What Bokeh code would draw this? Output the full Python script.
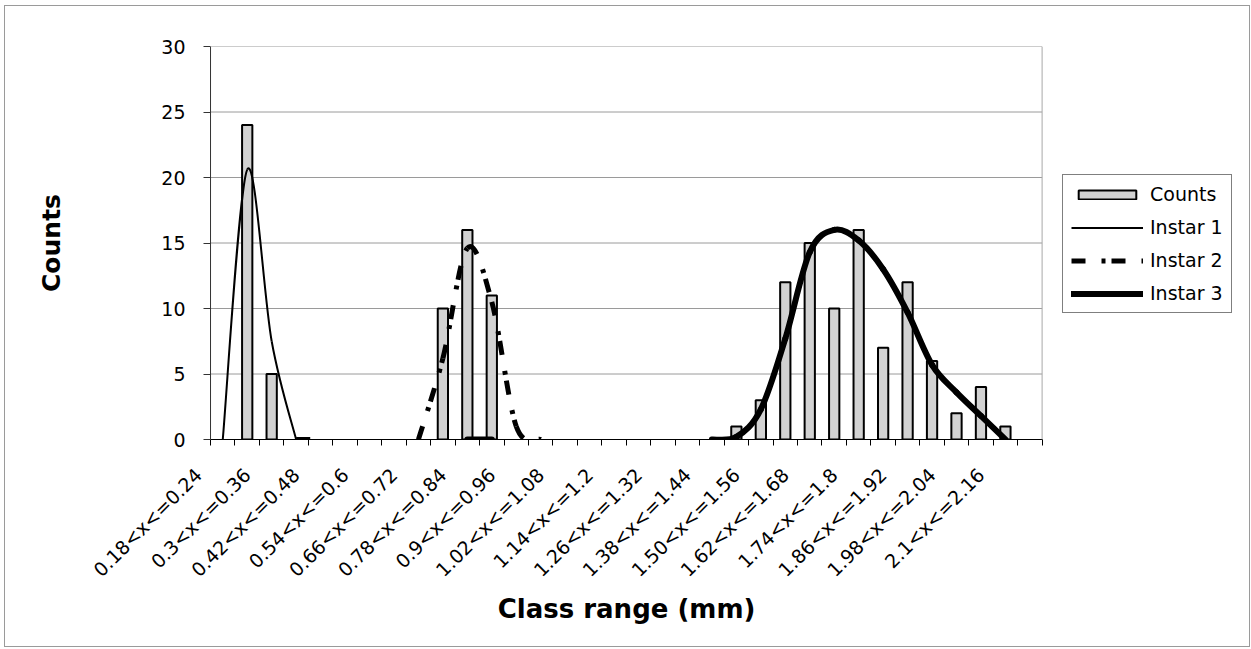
import math
from bokeh.plotting import figure
from bokeh.models import Range1d, FixedTicker, Legend, LegendItem, Span, Title
from bokeh.embed import file_html
from bokeh.resources import INLINE

# ---------------- data ----------------
categories = [
    "0.18<x<=0.24", "0.24<x<=0.3", "0.3<x<=0.36", "0.36<x<=0.42", "0.42<x<=0.48",
    "0.48<x<=0.54", "0.54<x<=0.6", "0.6<x<=0.66", "0.66<x<=0.72", "0.72<x<=0.78",
    "0.78<x<=0.84", "0.84<x<=0.9", "0.9<x<=0.96", "0.96<x<=1.02", "1.02<x<=1.08",
    "1.08<x<=1.14", "1.14<x<=1.2", "1.2<x<=1.26", "1.26<x<=1.32", "1.32<x<=1.38",
    "1.38<x<=1.44", "1.44<x<=1.50", "1.50<x<=1.56", "1.56<x<=1.62", "1.62<x<=1.68",
    "1.68<x<=1.74", "1.74<x<=1.8", "1.8<x<=1.86", "1.86<x<=1.92", "1.92<x<=1.98",
    "1.98<x<=2.04", "2.04<x<=2.1", "2.1<x<=2.16", "2.16<x<=2.22",
]
counts = [0, 24, 5, 0, 0, 0, 0, 0, 0, 10, 16, 11, 0, 0, 0, 0, 0,
          0, 0, 0, 0, 1, 3, 12, 15, 10, 16, 7, 12, 6, 2, 4, 1, 0]
N = None
instar1 = [0, 20.6, 7.5, 0, N, N, N, N, N, N, N, N, N, N, N, N, N,
           N, N, N, N, N, N, N, N, N, N, N, N, N, N, N, N, N]
instar2 = [N, N, N, 0, 0, N, N, N, 0, 6.2, 14.6, 10.5, 1.0, 0, N, N, N,
           N, N, N, N, N, N, N, N, N, N, N, N, N, N, N, N, N]
instar3 = [N, N, N, N, N, N, N, N, N, N, 0, 0, N, N, N, N, N,
           N, N, N, 0, 0.2, 2.3, 7.7, 14.3, 16.0, 15.2, 13.0, 9.7, 5.7, 3.6, 1.8, 0, N]
y_ticks = [0, 5, 10, 15, 20, 25, 30]

# ---------------- layout constants ----------------
FONT = "DejaVu Sans"
ncat = len(categories)
W, H = 1246, 642
MB_LEFT, MB_RIGHT, MB_TOP, MB_BOTTOM = 190, 2, 40, 209
CAT_PX = 830.0 / ncat          # pixel width of one class on screen
AXIS_OFFSET_PX = 15.0          # value axis sits this far right of the frame's left edge
label_shift = 1.0              # rotated labels end left of the class centre
frame_w = (W - 2) - MB_LEFT - MB_RIGHT
x_lo = -AXIS_OFFSET_PX / CAT_PX
x_hi = x_lo + frame_w / CAT_PX
XTITLE_SIZE = 26
xtitle_est_w = 9.83 * XTITLE_SIZE
title_offset = AXIS_OFFSET_PX + ncat * CAT_PX / 2.0 - xtitle_est_w / 2.0


def bezier_cols(vals):
    """Excel-like smoothed line: cubic Bezier pieces between consecutive defined points."""
    d = dict(x0=[], y0=[], x1=[], y1=[], cx0=[], cy0=[], cx1=[], cy1=[])
    n = len(vals)
    for i in range(n - 1):
        a, b = vals[i], vals[i + 1]
        if a is None or b is None:
            continue
        xa, xb = i + 0.5, i + 1.5
        if i - 1 >= 0 and vals[i - 1] is not None:
            xp, yp = i - 0.5, vals[i - 1]
        else:
            xp, yp = xa, a
        if i + 2 < n and vals[i + 2] is not None:
            xn, yn = i + 2.5, vals[i + 2]
        else:
            xn, yn = xb, b
        d["x0"].append(xa); d["y0"].append(a)
        d["x1"].append(xb); d["y1"].append(b)
        d["cx0"].append(xa + (xb - xp) / 6.0); d["cy0"].append(a + (b - yp) / 6.0)
        d["cx1"].append(xb - (xn - xa) / 6.0); d["cy1"].append(b - (yn - a) / 6.0)
    return d


p = figure(width=W, height=H,
           x_range=Range1d(x_lo, x_hi), y_range=Range1d(y_ticks[0], y_ticks[-1]),
           output_backend="svg", toolbar_location=None,
           min_border_left=MB_LEFT, min_border_right=MB_RIGHT,
           min_border_top=MB_TOP, min_border_bottom=MB_BOTTOM)
p.styles = {"border": "1px solid #9a9a9a", "margin-left": "4px", "margin-top": "5px"}
p.background_fill_color = "white"
p.border_fill_color = "white"
p.outline_line_color = None

# horizontal gridlines (only across the class area) and plot-area borders
p.segment(x0=0, x1=ncat, y0=y_ticks, y1=y_ticks, line_color="#9a9a9a", line_width=1)
p.add_layout(Span(location=ncat, dimension="height", line_color="#a8a8a8", line_width=1))
p.add_layout(Span(location=0, dimension="height", line_color="#333333", line_width=1))

# bars
bx = [i + 0.5 for i, c in enumerate(counts) if c > 0]
bt = [c for c in counts if c > 0]
bars = p.vbar(x=bx, top=bt, width=0.42, fill_color="#d2d2d2",
              line_color="black", line_width=2)

# smoothed lines
r1 = p.bezier(line_color="black", line_width=2, **bezier_cols(instar1))
r2 = p.bezier(line_color="black", line_width=5, line_dash="14 16 4 6",
              **bezier_cols(instar2))
r3 = p.bezier(line_color="black", line_width=6, line_cap="round",
              **bezier_cols(instar3))

# x axis
label_pos = [i + 0.5 - label_shift for i in range(0, ncat, 2)]
p.xaxis.ticker = FixedTicker(ticks=label_pos, minor_ticks=list(range(ncat + 1)))
p.xaxis.major_label_overrides = {label_pos[k]: categories[2 * k] for k in range(len(label_pos))}
p.xaxis.bounds = (0, ncat)
p.xaxis.major_tick_out = 0
p.xaxis.major_tick_in = 0
p.xaxis.minor_tick_out = 6
p.xaxis.minor_tick_in = 0
p.xaxis.minor_tick_line_color = "black"
p.xaxis.axis_line_color = "black"
p.xaxis.major_label_orientation = math.pi / 4
p.xaxis.major_label_text_font = FONT
p.xaxis.major_label_text_font_size = "19px"
p.xaxis.major_label_text_color = "black"
p.xaxis.major_label_standoff = 26

xtitle = Title(text="Class range (mm)", align="left", offset=title_offset,
               text_font=FONT, text_font_style="bold",
               text_font_size=f"{XTITLE_SIZE}px", text_color="black", standoff=1)
p.add_layout(xtitle, "below")

# y axis (drawn at class 0; ticks reach from the label side up to the axis line)
p.yaxis.ticker = FixedTicker(ticks=y_ticks)
p.yaxis.minor_tick_line_color = None
p.yaxis.axis_line_color = None
p.yaxis.major_tick_out = -8
p.yaxis.major_tick_in = int(AXIS_OFFSET_PX)
p.yaxis.major_tick_line_color = "#333333"
p.yaxis.major_label_text_font = FONT
p.yaxis.major_label_text_font_size = "19px"
p.yaxis.major_label_text_color = "black"
p.yaxis.major_label_standoff = 10
p.yaxis.axis_label = "Counts"
p.yaxis.axis_label_text_font = FONT
p.yaxis.axis_label_text_font_style = "bold"
p.yaxis.axis_label_text_font_size = "25px"
p.yaxis.axis_label_text_color = "black"
p.yaxis.axis_label_standoff = 92

p.xgrid.visible = False
p.ygrid.visible = False

legend = Legend(items=[
    LegendItem(label="Counts", renderers=[bars]),
    LegendItem(label="Instar 1", renderers=[r1]),
    LegendItem(label="Instar 2", renderers=[r2]),
    LegendItem(label="Instar 3", renderers=[r3]),
], location=(AXIS_OFFSET_PX + 852, 126))
legend.border_line_color = "black"
legend.border_line_width = 1
legend.background_fill_color = "white"
legend.glyph_width = 72
legend.glyph_height = 11
legend.label_height = 22
legend.spacing = 11
legend.padding = 8
legend.margin = 0
legend.label_standoff = 7
legend.label_text_font = FONT
legend.label_text_font_size = "19px"
legend.label_text_color = "black"
p.add_layout(legend, "center")

open("out.html", "w").write(file_html(p, INLINE))
